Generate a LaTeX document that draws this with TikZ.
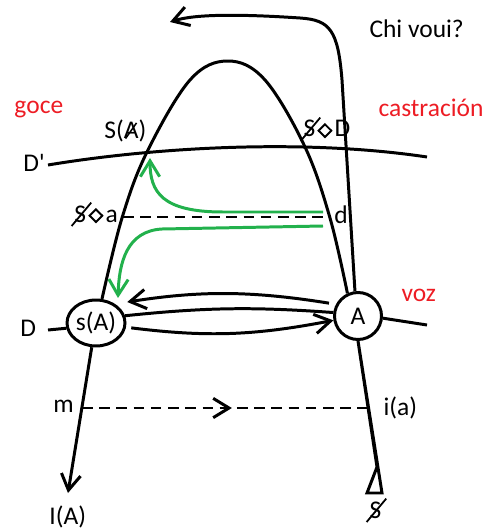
\documentclass[tikz,border=0pt]{standalone}
\usepackage{fontspec}
\setmainfont{Carlito}
\usepackage{graphicx}
\usetikzlibrary{arrows.meta,shapes.geometric,decorations.markings}

\definecolor{paintred}{RGB}{237,28,36}
\definecolor{paintgreen}{RGB}{34,177,76}

% barred letters and the lozenge
\newcommand{\barS}{\makebox[0pt][l]{\hspace{-0.14em}\raisebox{-0.18em}{\rotatebox{50}{\rule{1.2em}{0.07em}}}}S}
\newcommand{\barA}{\makebox[0pt][l]{\hspace{0.04em}\rotatebox{55}{\rule{0.75em}{0.06em}}}A}
\newcommand{\lozen}{\hspace{0.08em}{\fboxsep=0pt\fboxrule=1.1pt\rotatebox{45}{\fbox{\rule{0pt}{4pt}\rule{4pt}{0pt}}}}\hspace{0.08em}}

\begin{document}
\begin{tikzpicture}[x=0.02cm, y=-0.02cm, line width=1.7pt,
  >={Straight Barb[length=9pt,width=11pt]},
  every node/.style={font=\fontsize{14.5}{17}\selectfont},
  lbl/.style={anchor=base west, inner sep=0pt},
  redlbl/.style={lbl, text=paintred},
  dashline/.style={dash pattern=on 6pt off 3.8pt},
  greenarrow/.style={draw=paintgreen, ->}]

\useasboundingbox (0,0) rectangle (491,530);

\node [draw, ellipse, inner sep=0pt, minimum width=1.16cm, minimum height=0.92cm] (sA) at (96,323) {s(A)};
\node [draw, circle, inner sep=0pt, minimum size=0.94cm] (A) at (358,316) {A};

\node [redlbl] (goce)  at (13,114)  {goce};
\node [redlbl] (castr) at (377,117) {castración};
\node [redlbl] (voz)   at (400,301) {voz};
\node [lbl] (chi) at (368,38)  {Chi voui?};
\node [lbl] (SA)  at (103,139) {S(\barA)};
\node [lbl] (Dp)  at (22,172)  {D\textquotesingle};
\node [lbl] (Sa)  at (73,222)  {\barS\lozen a};
\node [lbl] (SD)  at (302,137) {\barS\lozen D};
\node [lbl] (d)   at (333,223) {d};
\node [lbl] (D)   at (19,336)  {D};
\node [lbl] (m)   at (52,412)  {m};
\node [lbl] (ia)  at (382,415) {i(a)};
\node [lbl] (IA)  at (48,524)  {I(A)};
\node [lbl] (S)   at (368,518) {\barS};

\coordinate (Dl)  at (48,330);
\coordinate (Dr)  at (427,325);
\coordinate (Dpl) at (48,165);
\coordinate (Dpr) at (427,157);
\coordinate (al)  at (123,217);
\coordinate (dr)  at (331,217);
\coordinate (ml)  at (82,408);
\coordinate (mr)  at (368,408);
\coordinate (IAtip) at (68,493);
\coordinate (tri) at (377,467);
\coordinate (chitip) at (170,22);
\coordinate (g1) at (323,212);
\coordinate (g2) at (323,226);

% the arch and the legs
\draw plot [smooth, tension=0.6] coordinates {(sA.76) (122,218) (147,152) (190,80) (228,61) (265,80) (305,147) (330,218) (A.115)};
\draw (A.south) -- (tri) -- (367,493) -- (382,493) -- cycle;
\draw (Dl) -- (sA.190);
\draw (A.-5) -- (Dr);
\draw (Dpl) .. controls (150,148) and (300,138) .. (Dpr);
\draw [dashline] (al) -- (dr);
\draw [dashline, postaction={decorate, decoration={markings, mark=at position 0.524 with {\arrow{>}}}}] (ml) -- (mr);

\begin{scope}[->]
\draw (sA.-100) -- (IAtip);
\draw (A.97) -- (342,80) .. controls (338,30) and (330,20) .. (300,18) .. controls (240,14) and (195,14) .. (chitip);
\draw [shorten <=4pt, shorten >=7pt] (A.152) to [bend right=9] (sA.45);
\draw [shorten <=3pt] (sA.-8) to [bend right=9] (A.190);
\end{scope}
\draw (sA.14) to [bend left=5] (A.172);

\draw [greenarrow] (g1) -- (223,212) .. controls (162,212) and (150,192) .. (150,158);
\draw [greenarrow] (g2) -- (162,229) .. controls (127,231) and (119,262) .. (118,298);

\end{tikzpicture}
\end{document}
